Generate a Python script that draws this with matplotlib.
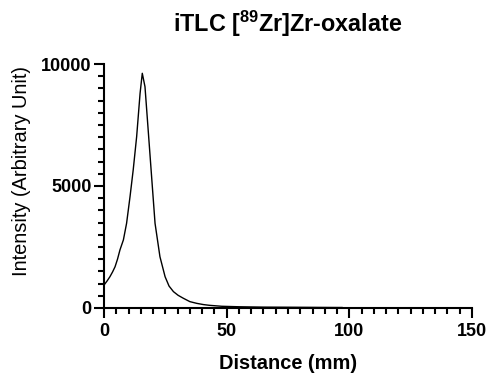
import matplotlib.pyplot as plt
from matplotlib.ticker import MultipleLocator

plt.rcParams['font.family'] = ['Liberation Sans', 'DejaVu Sans']
plt.rcParams['mathtext.fontset'] = 'custom'
plt.rcParams['mathtext.rm'] = 'Liberation Sans:bold'
plt.rcParams['mathtext.bf'] = 'Liberation Sans:bold'

# iTLC scan
distance = [0, 1.2, 2.4, 3.5, 4.5, 5.5, 6.5, 7.9, 9.2, 10.6, 11.9, 13.3, 14.7, 15.6,
            16.7, 18.1, 19.4, 20.8, 22.8, 24.9, 26.5, 28.3, 30.2, 32.3, 35, 37.8,
            40.5, 42.9, 48, 55, 65, 76, 86, 95, 97]
intensity = [940, 1100, 1280, 1480, 1690, 2000, 2380, 2790, 3470, 4560, 5660, 7020,
             8800, 9620, 9070, 7160, 5380, 3470, 2100, 1280, 900, 670, 520, 400,
             260, 190, 140, 110, 70, 50, 35, 30, 25, 20, 20]

fig = plt.figure(figsize=(4.89, 3.73), dpi=100)
ax = fig.add_axes([0.2127, 0.1743, 0.7526, 0.6541])
ax.plot(distance, intensity, color='black', linewidth=1)

ax.set_xlim(0, 150)
ax.set_ylim(0, 10000)
ax.xaxis.set_major_locator(MultipleLocator(50))
ax.xaxis.set_minor_locator(MultipleLocator(5))
ax.yaxis.set_major_locator(MultipleLocator(5000))
ax.yaxis.set_minor_locator(MultipleLocator(500))
for s in ['top', 'right']:
    ax.spines[s].set_visible(False)
for s in ['left', 'bottom']:
    ax.spines[s].set_linewidth(1.5)
ax.tick_params(which='major', length=7, width=1.5, labelsize=13)
ax.tick_params(axis='x', which='major', pad=3.5)
ax.tick_params(axis='y', which='major', pad=2)
ax.tick_params(which='minor', length=4.5, width=1.5)
for lab in ax.get_xticklabels() + ax.get_yticklabels():
    lab.set_fontweight('bold')

ax.set_xlabel('Distance (mm)', fontsize=14.4, fontweight='bold', va='top')
ax.xaxis.set_label_coords(0.5, -0.19)
ax.set_ylabel('Intensity (Arbitrary Unit)', fontsize=14.4)
ax.yaxis.set_label_coords(-0.198, 0.5635)
fig.text(0.589, 1 - 24 / 373, r'iTLC [$^{89}$Zr]Zr-oxalate', fontsize=16.8,
         fontweight='bold', ha='center', va='center')

fig.savefig('out.png', dpi=100)
